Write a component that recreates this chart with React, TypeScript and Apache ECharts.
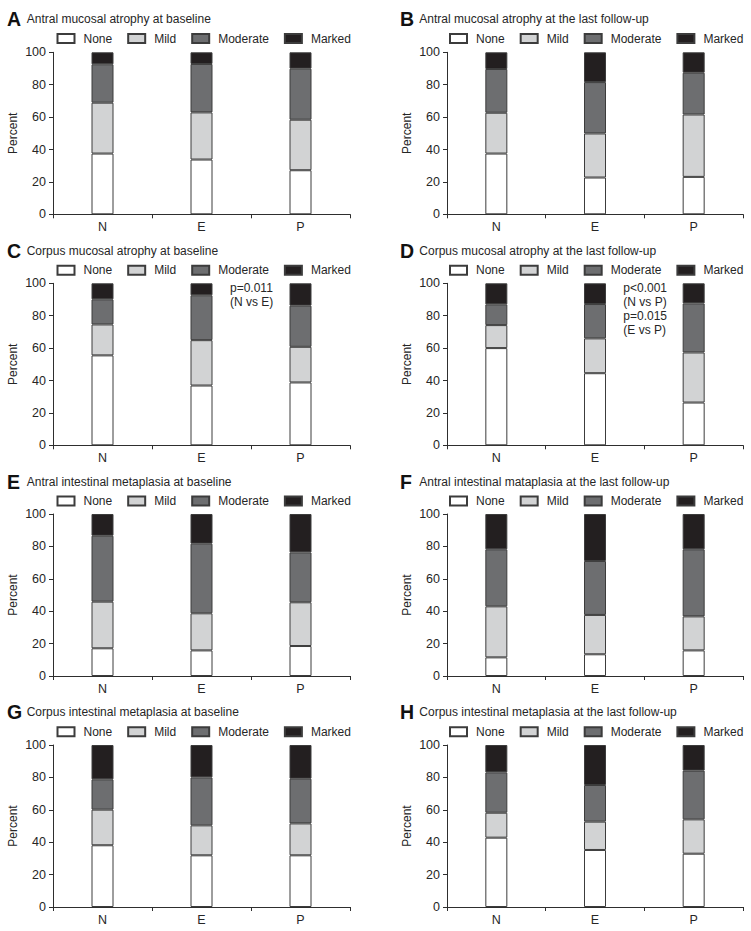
import React, { useEffect, useRef } from "react";
import * as echarts from "echarts";

// ---- data (percent per category, stacked None / Mild / Moderate / Marked) ----
const categories = ["N", "E", "P"];
const levels = ["None", "Mild", "Moderate", "Marked"];
const yTicks = [0, 20, 40, 60, 80, 100];

// each panel: [None[N,E,P], Mild[N,E,P], Moderate[N,E,P], Marked[N,E,P]]
const panelA = [[37.5, 33.8, 27.2], [31.4, 29.1, 31.2], [23.7, 29.9, 31.5], [7.4, 7.2, 10.1]];
const panelB = [[37.5, 22.7, 23.1], [25.2, 27.2, 38.5], [27.0, 31.7, 25.8], [10.3, 18.4, 12.6]];
const panelC = [[55.5, 36.9, 38.8], [19.1, 28.0, 22.0], [15.5, 27.7, 25.4], [9.9, 7.4, 13.8]];
const panelD = [[60.0, 44.5, 26.4], [14.2, 21.5, 30.9], [12.8, 21.2, 30.3], [13.0, 12.8, 12.4]];
const panelE = [[17.1, 15.8, 18.5], [28.8, 22.9, 27.0], [40.7, 43.0, 30.8], [13.4, 18.3, 23.7]];
const panelF = [[11.5, 13.4, 15.8], [31.5, 24.3, 21.0], [35.2, 33.3, 41.4], [21.8, 29.0, 21.8]];
const panelG = [[38.1, 31.9, 31.9], [22.0, 18.5, 19.7], [18.7, 29.6, 27.6], [21.2, 20.0, 20.8]];
const panelH = [[42.8, 35.2, 32.9], [15.4, 17.5, 21.2], [24.9, 22.6, 30.1], [16.9, 24.7, 15.8]];

const panelLetters = ["A", "B", "C", "D", "E", "F", "G", "H"];
const panelTitles = [
  "Antral mucosal atrophy at baseline",
  "Antral mucosal atrophy at the last follow-up",
  "Corpus mucosal atrophy at baseline",
  "Corpus mucosal atrophy at the last follow-up",
  "Antral intestinal metaplasia at baseline",
  "Antral intestinal mataplasia at the last follow-up",
  "Corpus intestinal metaplasia at baseline",
  "Corpus intestinal metaplasia at the last follow-up",
];
const panelNotes = ["", "", "p=0.011\n(N vs E)", "p<0.001\n(N vs P)\np=0.015\n(E vs P)", "", "", "", ""];
const panelData = [panelA, panelB, panelC, panelD, panelE, panelF, panelG, panelH];

// ---- styling / layout ----
const FONT = "'Liberation Sans', Arial, Helvetica, sans-serif";
const TEXT = "#262626";
const AXIS = "#2e2e2e";
const FILLS = ["#ffffff", "#d2d3d4", "#6d6e70", "#231f20"];
const BORDER = "#3c3c3c";

const colLeft = [53, 447];
const colWidth = [297, 296];
const rowTop = [52.3, 283.3, 514, 745];
const gridH = 162;
const rowBaseline = [23.5, 255.3, 486, 716.7];
const letterX = [7, 400];
const titleX = [26.7, 419.3];
const legendLeft = [56.5, 449];
const noteX = [230, 623.3];

export default function App() {
  const ref = useRef<HTMLDivElement>(null);

  useEffect(() => {
    if (!ref.current) return;
    const chart = echarts.init(ref.current, undefined, { renderer: "svg" });

    const grid: any[] = [];
    const xAxis: any[] = [];
    const yAxis: any[] = [];
    const series: any[] = [];
    const legend: any[] = [];
    const graphic: any[] = [];

    panelData.forEach((pd, i) => {
      const col = i % 2;
      const row = Math.floor(i / 2);
      grid.push({ left: colLeft[col], top: rowTop[row], width: colWidth[col], height: gridH });
      xAxis.push({
        type: "category",
        gridIndex: i,
        data: categories,
        axisLine: { lineStyle: { color: AXIS, width: 1 } },
        axisTick: { show: true, length: 4, alignWithLabel: false, lineStyle: { color: AXIS } },
        axisLabel: { color: TEXT, fontSize: 12.5, fontFamily: FONT, margin: 6 },
      });
      yAxis.push({
        type: "value",
        gridIndex: i,
        min: yTicks[0],
        max: yTicks[yTicks.length - 1],
        interval: yTicks[1] - yTicks[0],
        name: "Percent",
        nameLocation: "middle",
        nameGap: 34,
        nameTextStyle: { color: TEXT, fontSize: 12, fontFamily: FONT },
        axisLine: { show: true, lineStyle: { color: AXIS, width: 1 } },
        axisTick: { show: true, length: 4, lineStyle: { color: AXIS } },
        axisLabel: { color: TEXT, fontSize: 12.5, fontFamily: FONT, margin: 7 },
        splitLine: { show: false },
      });
      levels.forEach((lv, k) => {
        series.push({
          type: "bar",
          name: lv,
          stack: "s" + i,
          xAxisIndex: i,
          yAxisIndex: i,
          barWidth: 22,
          data: pd[k],
          itemStyle: { color: FILLS[k], borderColor: BORDER, borderWidth: 1 },
          emphasis: { disabled: true },
        });
      });
      legend.push({
        data: levels,
        left: legendLeft[col],
        top: rowBaseline[row] + 9,
        itemWidth: 17,
        itemHeight: 9,
        itemGap: 15,
        selectedMode: false,
        icon: "rect",
        padding: 0,
        textStyle: { color: TEXT, fontSize: 12, fontFamily: FONT, padding: [0, 0, 0, 4] },
      });
      graphic.push({
        type: "text",
        left: letterX[col],
        top: rowBaseline[row] - 14.5,
        style: { text: panelLetters[i], font: `bold 19.5px ${FONT}`, fill: "#111" },
      });
      graphic.push({
        type: "text",
        left: titleX[col],
        top: rowBaseline[row] - 10.5,
        style: { text: panelTitles[i], font: `12px ${FONT}`, fill: TEXT },
      });
      if (panelNotes[i]) {
        graphic.push({
          type: "text",
          left: noteX[col],
          top: rowTop[row] - 2,
          style: { text: panelNotes[i], font: `12px ${FONT}`, fill: TEXT, lineHeight: 13.9 },
        });
      }
    });

    chart.setOption({
      animation: false,
      backgroundColor: "#ffffff",
      textStyle: { fontFamily: FONT },
      grid,
      xAxis,
      yAxis,
      series,
      legend,
      graphic,
    });
    return () => chart.dispose();
  }, []);

  return (
    <div
      ref={ref}
      style={{ position: "absolute", left: 0, top: 0, width: 751, height: 931 }}
    />
  );
}
